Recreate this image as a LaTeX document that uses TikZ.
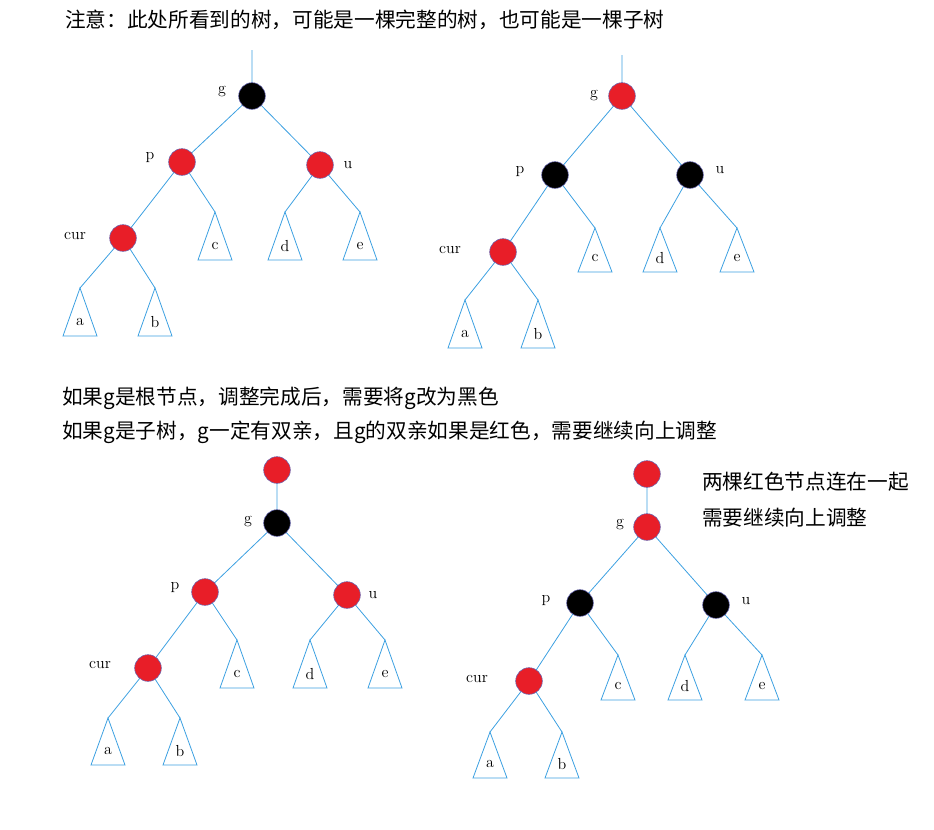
\documentclass[tikz,border=0pt]{standalone}
\usepackage{fontspec}
\newfontfamily\cjk{Noto Sans CJK SC}
\begin{document}
\begin{tikzpicture}[x=0.75pt,y=-0.75pt,
  edge/.style={draw={rgb,255:red,60;green,160;blue,225}, line width=0.6pt},
  rn/.style={circle, fill={rgb,255:red,232;green,30;blue,40}, draw=blue!50!black!60, line width=0.4pt, minimum size=20pt, inner sep=0},
  bn/.style={circle, fill=black, draw=blue!50!black!60, line width=0.4pt, minimum size=20pt, inner sep=0},
  lab/.style={font=\fontsize{12}{14}\selectfont},
  txt/.style={font=\cjk\fontsize{15.5}{18}\selectfont, anchor=west, inner sep=0}]
\useasboundingbox (0,0) rectangle (934,829);
\newcommand\Tr[5]{\coordinate (#1) at (#2,#3);
  \draw[edge] (#2,#3) -- (#2-17,#3+#4) -- (#2+17,#3+#4) -- cycle;
  \node[lab] at (#2,#3+#4-14) {#5};}
% texts
\node[txt] (t1) at (65,20) {注意：此处所看到的树，可能是一棵完整的树，也可能是一棵子树};
\node[txt] (t2) at (62,398) {如果g是根节点，调整完成后，需要将g改为黑色};
\node[txt] (t3) at (62,432) {如果g是子树，g一定有双亲，且g的双亲如果是红色，需要继续向上调整};
\node[txt] (t4) at (702,482) {两棵红色节点连在一起};
\node[txt] (t5) at (702,518) {需要继续向上调整};
% ---------- tree 1
\coordinate (top1) at (252,50);
\coordinate (g1) at (252,96); \node[lab] at (222,92) {g};
\coordinate (p1) at (182,162); \node[lab] at (150,158) {p};
\coordinate (u1) at (320,165); \node[lab] at (348,165) {u};
\coordinate (c1) at (123,238); \node[lab] at (75,236) {cur};
\Tr{tc1}{215}{212}{48}{c}\Tr{td1}{285}{212}{48}{d}\Tr{te1}{360}{212}{48}{e}
\Tr{ta1}{80}{288}{48}{a}\Tr{tb1}{155}{288}{48}{b}
% ---------- tree 2
\coordinate (top2) at (622,55);
\coordinate (g2) at (622,96); \node[lab] at (594,96) {g};
\coordinate (p2) at (555,175); \node[lab] at (520,172) {p};
\coordinate (u2) at (690,175); \node[lab] at (720,170) {u};
\coordinate (c2) at (503,252); \node[lab] at (450,250) {cur};
\Tr{tc2}{595}{228}{44}{c}\Tr{td2}{660}{228}{44}{d}\Tr{te2}{737}{228}{44}{e}
\Tr{ta2}{465}{300}{48}{a}\Tr{tb2}{538}{300}{48}{b}
% ---------- tree 3
\coordinate (r3) at (277,470);
\coordinate (g3) at (277,523); \node[lab] at (248,522) {g};
\coordinate (p3) at (205,592); \node[lab] at (175,588) {p};
\coordinate (u3) at (347,595); \node[lab] at (373,595) {u};
\coordinate (c3) at (148,668); \node[lab] at (100,665) {cur};
\Tr{tc3}{237}{640}{48}{c}\Tr{td3}{310}{640}{48}{d}\Tr{te3}{385}{640}{48}{e}
\Tr{ta3}{108}{718}{47}{a}\Tr{tb3}{180}{718}{47}{b}
% ---------- tree 4
\coordinate (r4) at (647,474);
\coordinate (g4) at (647,527); \node[lab] at (620,525) {g};
\coordinate (p4) at (580,603); \node[lab] at (546,601) {p};
\coordinate (u4) at (716,605); \node[lab] at (746,601) {u};
\coordinate (c4) at (529,681); \node[lab] at (477,679) {cur};
\Tr{tc4}{618}{655}{45}{c}\Tr{td4}{685}{655}{45}{d}\Tr{te4}{762}{655}{45}{e}
\Tr{ta4}{490}{732}{46}{a}\Tr{tb4}{562}{732}{46}{b}
% edges
\draw[edge] (top1)--(g1) (g1)--(p1) (g1)--(u1) (p1)--(c1) (p1)--(tc1) (u1)--(td1) (u1)--(te1) (c1)--(ta1) (c1)--(tb1);
\draw[edge] (top2)--(g2) (g2)--(p2) (g2)--(u2) (p2)--(c2) (p2)--(tc2) (u2)--(td2) (u2)--(te2) (c2)--(ta2) (c2)--(tb2);
\draw[edge] (r3)--(g3) (g3)--(p3) (g3)--(u3) (p3)--(c3) (p3)--(tc3) (u3)--(td3) (u3)--(te3) (c3)--(ta3) (c3)--(tb3);
\draw[edge] (r4)--(g4) (g4)--(p4) (g4)--(u4) (p4)--(c4) (p4)--(tc4) (u4)--(td4) (u4)--(te4) (c4)--(ta4) (c4)--(tb4);
% nodes on top
\node[bn] (G1) at (g1) {}; \node[rn] (P1) at (p1) {}; \node[rn] (U1) at (u1) {}; \node[rn] (C1) at (c1) {};
\node[rn] (G2) at (g2) {}; \node[bn] (P2) at (p2) {}; \node[bn] (U2) at (u2) {}; \node[rn] (C2) at (c2) {};
\node[rn] (R3) at (r3) {}; \node[bn] (G3) at (g3) {}; \node[rn] (P3) at (p3) {}; \node[rn] (U3) at (u3) {}; \node[rn] (C3) at (c3) {};
\node[rn] (R4) at (r4) {}; \node[rn] (G4) at (g4) {}; \node[bn] (P4) at (p4) {}; \node[bn] (U4) at (u4) {}; \node[rn] (C4) at (c4) {};
\end{tikzpicture}
\end{document}
